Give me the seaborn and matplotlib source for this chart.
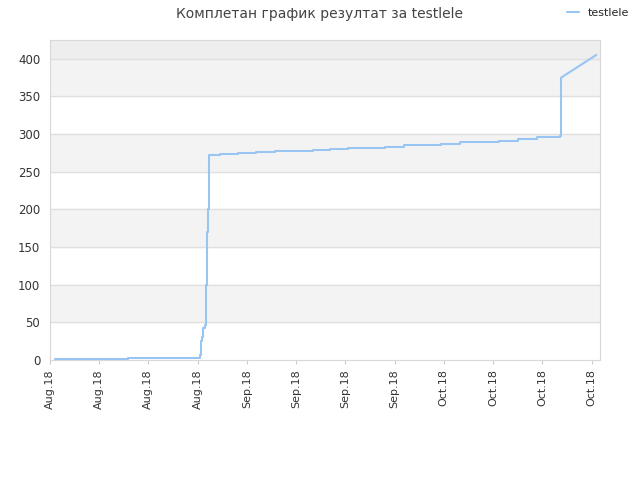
import matplotlib
matplotlib.use("Agg")
import matplotlib.pyplot as plt
import seaborn as sns
import numpy as np

# pixel-read positions converted to tick units below
x_px = [55, 128, 200, 200, 201, 202, 203, 205, 206, 207, 208, 209, 220, 238, 256, 275,
        294, 313, 330, 348, 366, 385, 404, 422, 441, 460, 480, 499, 518, 537, 560, 561]
scores = [1, 2, 2, 10, 25, 30, 42, 47, 100, 170, 200, 272, 274, 275, 276, 277,
          278, 279, 280, 281, 282, 283, 285, 286, 287, 289, 290, 291, 293, 296, 298, 375]
end_px = [561, 596]
end_scores = [375, 405]
tick_labels = ["Aug.18"] * 4 + ["Sep.18"] * 4 + ["Oct.18"] * 4

to_u = lambda p: (np.array(p) - 50) / 49.2

sns.set_style("white")
fig = plt.figure(figsize=(6.4, 4.8), dpi=100)
ax = fig.add_axes([0.078, 0.25, 0.86, 0.667])

for lo in range(50, 400, 100):
    ax.axhspan(lo, lo + 50, color="#f3f3f3", zorder=0)
ax.axhspan(400, 425, color="#eeeeee", zorder=0)
for v in range(50, 425, 50):
    ax.axhline(v, color="#e0e0e0", lw=1, zorder=1)

color = "#99c5f2"
sns.lineplot(x=to_u(x_px), y=scores, drawstyle="steps-post", color=color, lw=1.5,
             ax=ax, label="testlele", zorder=3)
sns.lineplot(x=to_u(end_px), y=end_scores, color=color, lw=1.5, ax=ax, zorder=3)

ax.set_xlim(0, (600 - 50) / 49.2)
ax.set_ylim(0, 425)
ax.set_yticks(range(0, 401, 50))
ax.set_xticks(range(12))
ax.set_xticklabels(tick_labels, rotation=90, fontsize=8, color="#333333")
ax.tick_params(axis="y", labelsize=8.5, colors="#333333")
ax.tick_params(axis="x", length=3, color="#cccccc", bottom=True)
for s in ax.spines.values():
    s.set_color("#d8d8d8")

fig.suptitle("Комплетан график резултат за testlele", fontsize=10, color="#444444", y=0.985)
ax.legend(loc="upper right", bbox_to_anchor=(1.07, 1.13), frameon=False, fontsize=8,
          handlelength=1)
fig.savefig("out.png")
